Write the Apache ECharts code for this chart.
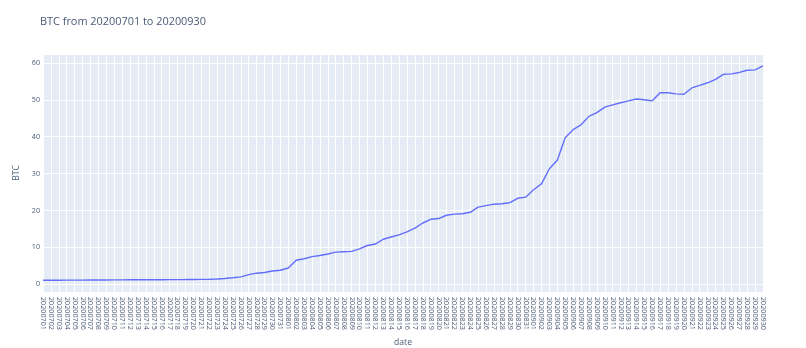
<!DOCTYPE html>
<html>
<head>
<meta charset="utf-8">
<script src="https://cdn.jsdelivr.net/npm/echarts@6/dist/echarts.min.js"></script>
<style>
html,body{margin:0;padding:0;background:#fff;}
#chart{width:806px;height:348px;}
</style>
</head>
<body>
<div id="chart"></div>
<script>
const titleText = "BTC from 20200701 to 20200930";
const xName = "date";
const yName = "BTC";
const dates = [
"20200701","20200702","20200703","20200704","20200705","20200706","20200707","20200708","20200709","20200710",
"20200711","20200712","20200713","20200714","20200715","20200716","20200717","20200718","20200719","20200720",
"20200721","20200722","20200723","20200724","20200725","20200726","20200727","20200728","20200729","20200730",
"20200731","20200801","20200802","20200803","20200804","20200805","20200806","20200807","20200808","20200809",
"20200810","20200811","20200812","20200813","20200814","20200815","20200816","20200817","20200818","20200819",
"20200820","20200821","20200822","20200823","20200824","20200825","20200826","20200827","20200828","20200829",
"20200830","20200831","20200901","20200902","20200903","20200904","20200905","20200906","20200907","20200908",
"20200909","20200910","20200911","20200912","20200913","20200914","20200915","20200916","20200917","20200918",
"20200919","20200920","20200921","20200922","20200923","20200924","20200925","20200926","20200927","20200928",
"20200929","20200930"
];
const btc = [
1.08,1.09,1.10,1.11,1.12,1.13,1.14,1.15,1.17,1.18,
1.19,1.20,1.21,1.22,1.23,1.24,1.25,1.26,1.27,1.29,
1.32,1.36,1.42,1.55,1.75,2.0,2.6,3.0,3.2,3.6,
3.8,4.4,6.5,6.9,7.5,7.8,8.2,8.7,8.8,8.9,
9.6,10.5,10.9,12.2,12.8,13.4,14.2,15.2,16.6,17.6,
17.8,18.7,19.0,19.1,19.5,20.9,21.3,21.7,21.8,22.1,
23.3,23.6,25.6,27.2,31.3,33.6,39.7,41.9,43.2,45.5,
46.5,48.0,48.6,49.2,49.7,50.2,50.0,49.7,51.9,51.9,
51.6,51.5,53.2,53.9,54.6,55.5,56.9,57.0,57.4,58.0,
58.1,59.2
];
const yMin = -2.1;
const yMax = 62.4;

const txt = '#4a5b77';
const font = '"Open Sans", "DejaVu Sans", sans-serif';
const chart = echarts.init(document.getElementById('chart'), null, {renderer: 'canvas'});
chart.setOption({
  animation: false,
  backgroundColor: '#ffffff',
  title: {
    text: titleText,
    left: 40, top: 16, padding: 0,
    textStyle: {color: txt, fontSize: 10.9, fontWeight: 'normal', fontFamily: font}
  },
  grid: {left: 43, right: 43, top: 54, bottom: 56, containLabel: false, outerBoundsMode: 'none',
    show: true, backgroundColor: '#E5ECF6', borderWidth: 0},
  xAxis: {
    type: 'category',
    data: dates,
    boundaryGap: false,
    name: xName,
    nameLocation: 'middle',
    nameGap: 44,
    nameTextStyle: {color: txt, fontSize: 8.6, fontFamily: font},
    axisLine: {show: false},
    axisTick: {show: false},
    axisLabel: {interval: 0, rotate: -90, color: txt, fontSize: 7.2, fontFamily: font, margin: 5},
    splitLine: {show: true, interval: 0, lineStyle: {color: '#ffffff', width: 1}}
  },
  yAxis: {
    type: 'value',
    min: yMin,
    max: yMax,
    splitNumber: 6,
    name: yName,
    nameLocation: 'middle',
    nameGap: 20,
    nameTextStyle: {color: txt, fontSize: 8.6, fontFamily: font},
    axisLine: {show: false},
    axisTick: {show: false},
    axisLabel: {color: txt, fontSize: 7.2, fontFamily: font, margin: 3, showMinLabel: false, showMaxLabel: false},
    splitLine: {show: true, lineStyle: {color: '#ffffff', width: 1}}
  },
  series: [{
    type: 'line',
    data: btc,
    showSymbol: false,
    symbol: 'none',
    lineStyle: {color: '#636efa', width: 1.4},
    itemStyle: {color: '#636efa'}
  }]
});
</script>
</body>
</html>
